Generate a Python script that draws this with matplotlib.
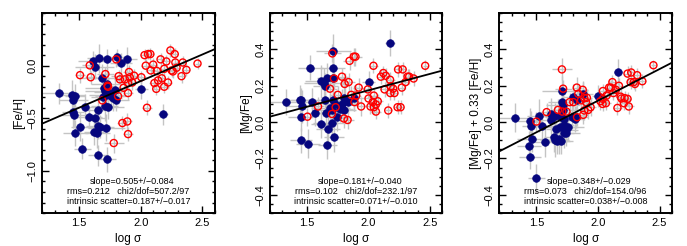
import numpy as np
import matplotlib.pyplot as plt
from matplotlib.ticker import MultipleLocator

plt.rcParams['font.family'] = ['Liberation Sans', 'DejaVu Sans']

# ---------- panel 1 : [Fe/H] ----------
fe_blue_x = [1.333, 1.444, 1.468, 1.452, 1.544, 1.45, 1.458, 1.576, 1.509, 1.468, 1.525,
             1.612, 1.625, 1.66, 1.728, 1.81, 1.836, 1.89, 1.687, 1.70, 1.728, 1.706,
             1.733, 1.72, 1.693, 1.755, 1.788, 1.80, 1.77, 1.706, 1.73, 1.652, 1.63,
             1.652, 1.67, 1.62, 1.647, 1.72, 1.652, 1.725, 2.004, 2.183]
fe_blue_y = [-0.26, -0.28, -0.29, -0.33, -0.39, -0.44, -0.47, -0.49, -0.58, -0.64, -0.79,
             0.04, -0.01, 0.07, 0.06, 0.08, 0.025, 0.06, -0.12, -0.21, -0.17, -0.24,
             -0.25, -0.28, -0.30, -0.29, -0.23, -0.33, -0.31, -0.38, -0.39, -0.42, -0.50,
             -0.57, -0.58, -0.63, -0.64, -0.59, -0.85, -0.89, -0.22, -0.46]
fe_blue_xerr = [0.14, 0.10, 0.08, 0.12, 0.10, 0.09, 0.13, 0.11, 0.08, 0.10, 0.07,
                0.12, 0.16, 0.10, 0.08, 0.11, 0.09, 0.08, 0.18, 0.15, 0.13, 0.16,
                0.11, 0.14, 0.10, 0.13, 0.08, 0.10, 0.08, 0.11, 0.13, 0.10, 0.08,
                0.10, 0.11, 0.08, 0.10, 0.15, 0.08, 0.07, 0.05, 0.04]
fe_blue_yerr = [0.10, 0.14, 0.12, 0.10, 0.12, 0.15, 0.11, 0.10, 0.14, 0.12, 0.10,
                0.10, 0.12, 0.14, 0.10, 0.08, 0.10, 0.12, 0.14, 0.12, 0.15, 0.18,
                0.14, 0.12, 0.10, 0.12, 0.13, 0.10, 0.12, 0.15, 0.12, 0.14, 0.12,
                0.13, 0.11, 0.12, 0.14, 0.13, 0.10, 0.12, 0.10, 0.10]

fe_red_x = [1.506, 1.593, 1.585, 1.712, 1.73, 1.733, 1.80, 1.82, 1.83, 1.87, 1.904,
            1.91, 1.93, 1.896, 1.86, 1.896, 1.815, 1.687, 1.78, 1.85, 1.89, 1.896,
            1.945, 2.004, 2.03, 2.058, 2.077, 2.04, 2.08, 2.10, 2.05, 2.16, 2.19,
            2.207, 2.13, 2.14, 2.11, 2.125, 2.17, 2.19, 2.22, 2.25, 2.24, 2.275,
            2.28, 2.29, 2.26, 2.34, 2.33, 2.37, 2.46]
fe_red_y = [-0.09, -0.11, 0.003, -0.08, -0.19, -0.20, 0.06, -0.10, -0.13, -0.13, -0.06,
            -0.11, -0.16, -0.165, -0.21, -0.26, -0.29, -0.33, -0.735, -0.545, -0.53, -0.65,
            -0.095, -0.11, 0.10, 0.11, 0.11, 0.0, -0.045, 0.01, -0.40, 0.06, -0.03,
            0.04, -0.05, -0.14, -0.165, -0.22, -0.12, -0.20, -0.16, -0.045, 0.145, 0.11,
            0.03, -0.02, -0.055, 0.03, -0.10, -0.04, 0.02]
fe_red_xerr = [0.04, 0.05, 0.06, 0.07, 0.05, 0.06, 0.05, 0.06, 0.05, 0.04, 0.05,
               0.05, 0.04, 0.05, 0.04, 0.04, 0.05, 0.04, 0.08, 0.04, 0.04, 0.04,
               0.04, 0.04, 0.04, 0.03, 0.03, 0.04, 0.04, 0.03, 0.04, 0.03, 0.04,
               0.03, 0.04, 0.03, 0.04, 0.03, 0.03, 0.04, 0.03, 0.03, 0.03, 0.03,
               0.03, 0.03, 0.03, 0.03, 0.03, 0.03, 0.02]
fe_red_yerr = [0.07, 0.06, 0.07, 0.07, 0.08, 0.08, 0.07, 0.06, 0.07, 0.06, 0.07,
               0.06, 0.07, 0.08, 0.06, 0.07, 0.07, 0.07, 0.09, 0.07, 0.08, 0.07,
               0.06, 0.06, 0.06, 0.05, 0.06, 0.06, 0.06, 0.06, 0.07, 0.06, 0.06,
               0.06, 0.06, 0.06, 0.06, 0.06, 0.06, 0.06, 0.06, 0.06, 0.06, 0.06,
               0.06, 0.06, 0.06, 0.06, 0.06, 0.06, 0.05]

# ---------- panel 2 : [Mg/Fe] ----------
mg_blue_x = [1.329, 1.442, 1.45, 1.456, 1.45, 1.45, 1.51, 1.528, 1.54, 1.569, 1.617,
             1.64, 1.65, 1.617, 1.644, 1.657, 1.666, 1.67, 1.666, 1.70, 1.71, 1.69,
             1.70, 1.714, 1.71, 1.71, 1.717, 1.725, 1.746, 1.765, 1.784, 1.80, 1.80,
             1.83, 1.886, 2.0, 2.175]
mg_blue_y = [0.11, 0.123, 0.12, 0.086, 0.03, -0.10, -0.12, 0.30, 0.11, 0.05, 0.225,
             0.215, 0.20, -0.01, 0.12, 0.05, 0.243, -0.04, -0.125, -0.006, 0.12, 0.08,
             0.066, 0.393, 0.30, 0.243, -0.084, 0.10, 0.03, 0.073, 0.10, 0.064, 0.132,
             0.11, 0.132, 0.22, 0.434]
mg_blue_xerr = [0.14, 0.10, 0.08, 0.12, 0.10, 0.09, 0.10, 0.10, 0.12, 0.08, 0.13,
                0.16, 0.10, 0.08, 0.12, 0.10, 0.08, 0.10, 0.08, 0.15, 0.13, 0.16,
                0.11, 0.14, 0.10, 0.13, 0.08, 0.10, 0.08, 0.11, 0.13, 0.10, 0.08,
                0.10, 0.08, 0.05, 0.04]
mg_blue_yerr = [0.07, 0.08, 0.07, 0.09, 0.08, 0.07, 0.08, 0.07, 0.08, 0.07, 0.09,
                0.08, 0.07, 0.08, 0.09, 0.07, 0.08, 0.07, 0.08, 0.09, 0.10, 0.08,
                0.07, 0.09, 0.08, 0.11, 0.08, 0.07, 0.08, 0.07, 0.08, 0.07, 0.07,
                0.06, 0.07, 0.06, 0.07]

mg_red_x = [1.504, 1.59, 1.687, 1.706, 1.72, 1.733, 1.703, 1.75, 1.784, 1.806, 1.838,
            1.846, 1.88, 1.894, 1.86, 1.90, 1.92, 1.80, 1.83, 1.886, 1.94, 1.994,
            2.0, 2.016, 2.04, 2.043, 2.035, 2.075, 2.06, 2.043, 2.06, 2.10, 2.12,
            2.14, 2.13, 2.16, 2.175, 2.18, 2.20, 2.177, 2.21, 2.24, 2.277, 2.27,
            2.30, 2.317, 2.33, 2.366, 2.236, 2.26, 2.46]
mg_red_y = [0.03, 0.086, 0.184, 0.378, 0.24, 0.082, 0.045, 0.15, 0.25, 0.21, 0.22,
            0.337, 0.36, 0.36, 0.15, 0.146, 0.19, 0.02, 0.012, 0.11, 0.086, 0.18,
            0.13, 0.086, 0.31, 0.146, 0.11, 0.115, 0.097, 0.082, 0.058, 0.25, 0.27,
            0.255, 0.18, 0.064, 0.233, 0.197, 0.184, 0.16, 0.16, 0.29, 0.29, 0.19,
            0.22, 0.25, 0.25, 0.24, 0.082, 0.082, 0.31]
mg_red_xerr = [0.04, 0.05, 0.06, 0.07, 0.05, 0.06, 0.05, 0.06, 0.05, 0.04, 0.05,
               0.05, 0.04, 0.05, 0.04, 0.04, 0.05, 0.04, 0.05, 0.04, 0.04, 0.04,
               0.04, 0.04, 0.04, 0.03, 0.03, 0.04, 0.04, 0.03, 0.04, 0.03, 0.04,
               0.03, 0.04, 0.03, 0.04, 0.03, 0.03, 0.04, 0.03, 0.03, 0.03, 0.03,
               0.03, 0.03, 0.03, 0.03, 0.03, 0.03, 0.02]
mg_red_yerr = [0.05, 0.05, 0.06, 0.05, 0.06, 0.05, 0.06, 0.05, 0.05, 0.06, 0.05,
               0.05, 0.05, 0.05, 0.05, 0.05, 0.05, 0.05, 0.05, 0.05, 0.05, 0.05,
               0.04, 0.04, 0.04, 0.04, 0.04, 0.04, 0.04, 0.04, 0.04, 0.04, 0.04,
               0.04, 0.04, 0.04, 0.04, 0.04, 0.04, 0.04, 0.04, 0.04, 0.04, 0.04,
               0.04, 0.04, 0.04, 0.04, 0.04, 0.04, 0.03]

# ---------- panel 3 : [Mg/Fe] + 0.33 [Fe/H] ----------
zz_blue_x = [1.326, 1.447, 1.46, 1.465, 1.44, 1.447, 1.50, 1.52, 1.546, 1.567, 1.616,
             1.616, 1.648, 1.643, 1.648, 1.67, 1.68, 1.696, 1.66, 1.688, 1.70, 1.707,
             1.707, 1.715, 1.72, 1.723, 1.728, 1.74, 1.728, 1.743, 1.755, 1.787, 1.81,
             1.822, 1.795, 1.828, 1.88, 2.0, 2.166]
zz_blue_y = [0.023, 0.008, -0.02, -0.093, -0.13, -0.19, -0.31, 0.035, -0.023, -0.112, 0.044,
             0.012, 0.036, -0.084, -0.10, -0.103, -0.093, -0.103, -0.04, -0.029, 0.027, 0.171,
             0.11, 0.095, 0.064, 0.018, -0.014, -0.042, -0.062, -0.062, -0.025, 0.03, 0.017,
             0.027, 0.138, 0.12, 0.153, 0.143, 0.276]
zz_blue_xerr = [0.14, 0.10, 0.08, 0.12, 0.10, 0.09, 0.07, 0.10, 0.12, 0.08, 0.13,
                0.16, 0.10, 0.08, 0.12, 0.10, 0.08, 0.10, 0.08, 0.15, 0.13, 0.16,
                0.11, 0.14, 0.10, 0.13, 0.08, 0.10, 0.08, 0.11, 0.13, 0.10, 0.08,
                0.10, 0.08, 0.08, 0.08, 0.05, 0.04]
zz_blue_yerr = [0.08, 0.07, 0.08, 0.07, 0.08, 0.07, 0.08, 0.09, 0.07, 0.08, 0.09,
                0.08, 0.07, 0.08, 0.09, 0.07, 0.08, 0.07, 0.08, 0.09, 0.10, 0.08,
                0.07, 0.09, 0.08, 0.11, 0.08, 0.07, 0.08, 0.07, 0.08, 0.07, 0.07,
                0.06, 0.07, 0.06, 0.07, 0.06, 0.07]

zz_red_x = [1.50, 1.583, 1.707, 1.717, 1.675, 1.71, 1.744, 1.769, 1.80, 1.828, 1.84,
            1.862, 1.876, 1.889, 1.903, 1.91, 1.83, 1.88, 1.889, 1.92, 1.94, 2.02,
            2.04, 2.037, 2.064, 2.07, 2.04, 2.09, 2.104, 2.117, 2.125, 2.144, 2.158,
            2.17, 2.184, 2.19, 2.216, 2.21, 2.24, 2.25, 2.24, 2.27, 2.265, 2.29,
            2.30, 2.318, 2.36, 2.45]
zz_red_y = [0.003, 0.055, 0.29, 0.184, 0.067, 0.058, 0.058, 0.11, 0.11, 0.19, 0.156,
            0.12, 0.178, 0.132, 0.11, 0.134, 0.027, 0.04, 0.064, 0.067, 0.082, 0.115,
            0.128, 0.10, 0.104, 0.146, 0.171, 0.19, 0.19, 0.22, 0.16, 0.178, 0.078,
            0.20, 0.14, 0.13, 0.132, 0.104, 0.128, 0.086, 0.267, 0.273, 0.22, 0.22,
            0.21, 0.258, 0.225, 0.313]
zz_red_xerr = [0.04, 0.05, 0.08, 0.07, 0.05, 0.06, 0.05, 0.06, 0.05, 0.04, 0.05,
               0.05, 0.04, 0.05, 0.04, 0.04, 0.05, 0.04, 0.05, 0.04, 0.04, 0.04,
               0.04, 0.04, 0.04, 0.03, 0.03, 0.04, 0.04, 0.03, 0.04, 0.03, 0.04,
               0.03, 0.04, 0.03, 0.04, 0.03, 0.03, 0.04, 0.03, 0.03, 0.03, 0.03,
               0.03, 0.03, 0.03, 0.02]
zz_red_yerr = [0.05, 0.05, 0.06, 0.05, 0.06, 0.05, 0.06, 0.05, 0.05, 0.06, 0.05,
               0.05, 0.05, 0.05, 0.05, 0.05, 0.05, 0.05, 0.05, 0.05, 0.05, 0.05,
               0.04, 0.04, 0.04, 0.04, 0.04, 0.04, 0.04, 0.04, 0.04, 0.04, 0.04,
               0.04, 0.04, 0.04, 0.04, 0.04, 0.04, 0.04, 0.04, 0.04, 0.04, 0.04,
               0.04, 0.04, 0.04, 0.03]

# fits (slope, intercept) and annotation text
slopes = [0.505, 0.181, 0.348]
intercepts = [-1.156, -0.187, -0.578]
ylabels = ['[Fe/H]', '[Mg/Fe]', '[Mg/Fe] + 0.33 [Fe/H]']
ylims = [(-1.4, 0.5), (-0.5, 0.6), (-0.5, 0.6)]
yticks = [[-1.0, -0.5, 0.0], [-0.4, -0.2, 0.0, 0.2, 0.4], [-0.4, -0.2, 0.0, 0.2, 0.4]]
fit_text = [
    ['slope=0.505+/\u22120.084', 'rms=0.212   chi2/dof=507.2/97', 'intrinsic scatter=0.187+/\u22120.017'],
    ['slope=0.181+/\u22120.040', 'rms=0.102   chi2/dof=232.1/97', 'intrinsic scatter=0.071+/\u22120.010'],
    ['slope=0.348+/\u22120.029', 'rms=0.073   chi2/dof=154.0/96', 'intrinsic scatter=0.038+/\u22120.008'],
]

panels = [
    (fe_blue_x, fe_blue_y, fe_blue_xerr, fe_blue_yerr, fe_red_x, fe_red_y, fe_red_xerr, fe_red_yerr),
    (mg_blue_x, mg_blue_y, mg_blue_xerr, mg_blue_yerr, mg_red_x, mg_red_y, mg_red_xerr, mg_red_yerr),
    (zz_blue_x, zz_blue_y, zz_blue_xerr, zz_blue_yerr, zz_red_x, zz_red_y, zz_red_xerr, zz_red_yerr),
]

fig = plt.figure(figsize=(6.87, 2.46), dpi=100)
lefts = [0.0616, 0.393, 0.727]
navy = '#06067e'

for i, p in enumerate(panels):
    bx, by, bxe, bye, rx, ry, rxe, rye = p
    ax = fig.add_axes([lefts[i], 0.134, 0.251, 0.813])
    ax.errorbar(bx, by, xerr=bxe, yerr=bye, fmt='none', ecolor='#c4c4c4', elinewidth=1.0, zorder=1)
    ax.errorbar(rx, ry, xerr=rxe, yerr=rye, fmt='none', ecolor='#c4c4c4', elinewidth=1.0, zorder=1)
    ax.scatter(bx, by, s=30, color=navy, edgecolors=navy, linewidths=0.5, zorder=3)
    ax.scatter(rx, ry, s=26, facecolors='none', edgecolors='red', linewidths=1.0, zorder=3)
    xx = np.array([1.2, 2.6])
    ax.plot(xx, slopes[i] * xx + intercepts[i], color='black', lw=1.3, zorder=4)

    ax.set_xlim(1.2, 2.6)
    ax.set_ylim(*ylims[i])
    ax.xaxis.set_major_locator(MultipleLocator(0.5))
    ax.xaxis.set_minor_locator(MultipleLocator(0.1))
    ax.set_yticks(yticks[i])
    ax.yaxis.set_minor_locator(MultipleLocator(0.1 if i == 0 else 0.05))
    ax.tick_params(which='both', direction='in', top=True, right=True, labelsize=8, width=1)
    ax.tick_params(which='major', length=5)
    ax.tick_params(which='minor', length=2.5)
    for lab in ax.get_yticklabels():
        lab.set_rotation(90)
        lab.set_va('center')
    for s in ax.spines.values():
        s.set_linewidth(1.4)
    ax.set_xlabel('log \u03c3', fontsize=8.5)
    ax.set_ylabel(ylabels[i], fontsize=8.5, labelpad=2)

    ax.text(0.52, 0.158, fit_text[i][0], transform=ax.transAxes, ha='center', va='center', fontsize=6.5)
    ax.text(0.50, 0.108, fit_text[i][1], transform=ax.transAxes, ha='center', va='center', fontsize=6.5)
    ax.text(0.50, 0.060, fit_text[i][2], transform=ax.transAxes, ha='center', va='center', fontsize=6.5)

fig.savefig('out.png', dpi=100)
